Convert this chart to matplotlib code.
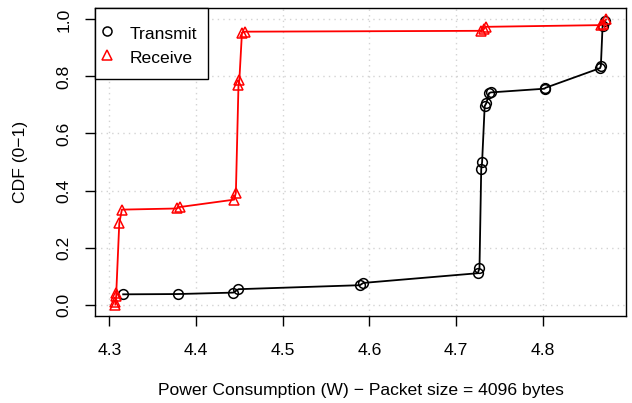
import matplotlib
matplotlib.use("Agg")
import matplotlib.pyplot as plt
from matplotlib.lines import Line2D

plt.rcParams['font.family'] = ['Liberation Sans', 'DejaVu Sans']

# Transmit series (power W, CDF)
tx_power = [4.316, 4.379, 4.443, 4.449, 4.589, 4.593, 4.725, 4.727, 4.729, 4.730,
            4.733, 4.735, 4.738, 4.740, 4.802, 4.803, 4.866, 4.867, 4.869, 4.872]
tx_cdf = [0.036, 0.037, 0.042, 0.054, 0.068, 0.076, 0.110, 0.127, 0.475, 0.499,
          0.696, 0.707, 0.741, 0.744, 0.757, 0.760, 0.829, 0.837, 0.978, 0.995]

# Receive series (power W, CDF)
rx_power = [4.307, 4.307, 4.308, 4.308, 4.3115, 4.3145, 4.378, 4.381, 4.444, 4.446,
            4.449, 4.450, 4.453, 4.457, 4.729, 4.732, 4.734, 4.867, 4.869, 4.873]
rx_cdf = [0.000, 0.009, 0.029, 0.039, 0.285, 0.333, 0.337, 0.342, 0.368, 0.392,
          0.769, 0.787, 0.953, 0.957, 0.960, 0.966, 0.974, 0.980, 0.985, 1.000]

x_ticks = [4.3, 4.4, 4.5, 4.6, 4.7, 4.8]
y_ticks = [0.0, 0.2, 0.4, 0.6, 0.8, 1.0]
series_names = ["Transmit", "Receive"]

FS = 12.6

fig = plt.figure(figsize=(6.32, 4.03), dpi=100)
ax = fig.add_axes([95/632, 1-316/403, (626-95)/632, (316-8)/403])

ax.set_xticks(x_ticks)
ax.set_yticks(y_ticks)
ax.grid(True, color='#d3d3d3', linestyle=(0, (1, 3)), linewidth=1.0)
ax.set_axisbelow(True)

ax.plot(tx_power, tx_cdf, color='black', linewidth=1.3, marker='o', markersize=7,
        markerfacecolor='none', markeredgecolor='black', markeredgewidth=1.1)
ax.plot(rx_power, rx_cdf, color='red', linewidth=1.3, marker='^', markersize=7.5,
        markerfacecolor='none', markeredgecolor='red', markeredgewidth=1.1)

ax.set_xlim(4.2835, 4.896)
ax.set_ylim(-0.04, 1.04)
ax.set_xticklabels([f"{v:.1f}" for v in x_ticks], fontsize=FS)
ax.set_yticklabels([f"{v:.1f}" for v in y_ticks], fontsize=FS, rotation=90, va='center')
ax.tick_params(axis='both', direction='out', length=7.2, width=1.0, color='black')
ax.tick_params(axis='x', pad=12)
ax.tick_params(axis='y', pad=9.5)
for s in ax.spines.values():
    s.set_linewidth(1.0)
    s.set_color('black')

ax.set_xlabel("Power Consumption (W) \u2212 Packet size = 4096 bytes", fontsize=FS, labelpad=18)
ax.set_ylabel("CDF (0\u22121)", fontsize=FS, labelpad=21)

handles = [
    Line2D([], [], linestyle='none', marker='o', markersize=6.5, markerfacecolor='none',
           markeredgecolor='black', markeredgewidth=1.1),
    Line2D([], [], linestyle='none', marker='^', markersize=7, markerfacecolor='none',
           markeredgecolor='red', markeredgewidth=1.1),
]
leg = ax.legend(handles, series_names, loc='upper left', fontsize=FS, borderaxespad=0,
                fancybox=False, edgecolor='black', framealpha=1, borderpad=0.6,
                handlelength=0.2, handleheight=1.5, labelspacing=0.17, handletextpad=1.2,
                title=" ", title_fontsize=1.2)
leg.get_frame().set_linewidth(1.0)

fig.savefig("out.png", dpi=100)
